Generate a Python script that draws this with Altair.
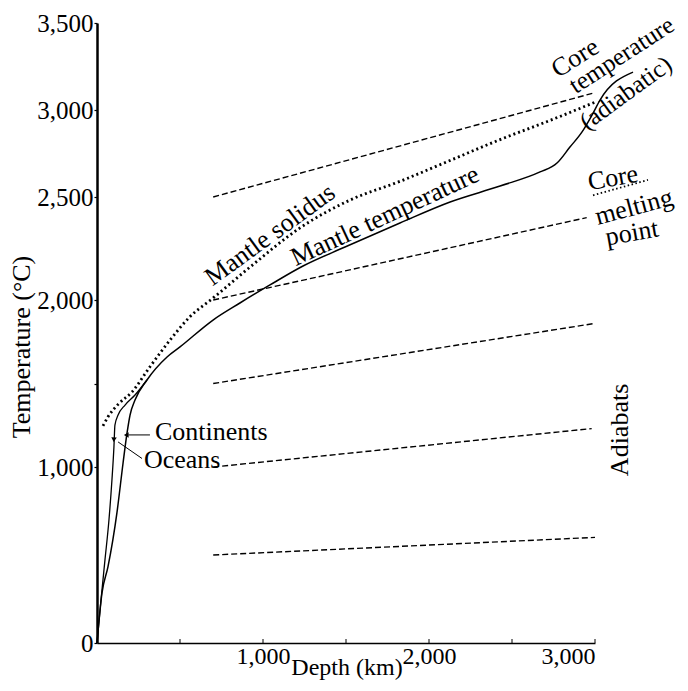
import altair as alt
import pandas as pd

FONT = "Liberation Serif"

# ---------------- data (depth km, temperature °C) ----------------
adiabat_depth = [[700, 3000], [700, 2950], [700, 3000], [700, 2980], [700, 3000]]
adiabat_temp = [[2500, 3100], [2000, 2400], [1500, 1860], [1000, 1230], [500, 600]]

solidus_depth = [36, 66, 127, 211, 319, 440, 560, 700, 922, 1223, 1524, 1825, 2127, 2428, 2729, 3000]
solidus_temp = [1246, 1300, 1375, 1450, 1600, 1760, 1900, 2010, 2160, 2350, 2485, 2590, 2710, 2830, 2940, 3045]

# continental geotherm continuing into mantle temperature and core adiabat
mantle_depth = [0, 30, 66, 120, 157, 181, 199, 229, 301, 422, 500, 699, 861, 1042, 1241, 1494,
                1825, 2127, 2428, 2669, 2771, 2849, 2922, 2982, 3030, 3229]
mantle_temp = [0, 284, 432, 739, 1024, 1204, 1311, 1401, 1521, 1659, 1719, 1880, 1982, 2073, 2165, 2257,
               2374, 2476, 2563, 2644, 2695, 2787, 2874, 2971, 3057, 3218]

ocean_depth = [0, 24, 48, 72, 90, 102, 108, 127, 169, 229, 301]
ocean_temp = [0, 244, 472, 699, 926, 1120, 1251, 1311, 1371, 1431, 1521]

core_melt_depth = [2988, 3319]
core_melt_temp = [2510, 2598]

x_ticks = [500, 1000, 1500, 2000, 2500, 3000]
y_ticks = [0, 1000, 1500, 2000, 2500, 3000, 3500]
y_label_points = [0, 1000, 2000, 2500, 3000, 3500]

labels_text = ["Mantle solidus", "Mantle temperature", "Core", "temperature", "(adiabatic)",
               "Core", "melting", "point", "Adiabats"]
labels_depth = [1042, 1735, 2880, 3160, 3185, 3108, 3235, 3223, 3151]
labels_temp = [2316, 2408, 3299, 3316, 3098, 2609, 2451, 2325, 1222]
labels_angle = [324, 335, 328, 327, 324, 350, 345, 350, 270]
labels_size = [26, 26, 26, 25, 25, 26, 26, 26, 26]

side_text = ["Continents", "Oceans"]
side_depth = [349, 283]
side_temp = [1210, 1040]

leader_depth = [319, 271]
leader_temp = [1192, 1051]
leader_depth2 = [190, 127]
leader_temp2 = [1192, 1150]
arrow_depth = [181, 102]
arrow_temp = [1192, 1168]
arrow_angle = [270, 304]

# ---------------- tables ----------------
rows = []
for i, (d, t) in enumerate(zip(adiabat_depth, adiabat_temp)):
    for dd, tt in zip(d, t):
        rows.append({"depth": dd, "temp": tt, "series": f"a{i}"})
adiabats = pd.DataFrame(rows)
solidus = pd.DataFrame({"depth": solidus_depth, "temp": solidus_temp})
mantle = pd.DataFrame({"depth": mantle_depth, "temp": mantle_temp})
ocean = pd.DataFrame({"depth": ocean_depth, "temp": ocean_temp})
coremelt = pd.DataFrame({"depth": core_melt_depth, "temp": core_melt_temp})
labels = pd.DataFrame({"text": labels_text, "depth": labels_depth, "temp": labels_temp,
                       "angle": labels_angle, "size": labels_size})
side_labels = pd.DataFrame({"text": side_text, "depth": side_depth, "temp": side_temp})
leaders = pd.DataFrame({"depth": leader_depth, "temp": leader_temp,
                        "depth2": leader_depth2, "temp2": leader_temp2})
arrows = pd.DataFrame({"depth": arrow_depth, "temp": arrow_temp, "angle": arrow_angle})
xticks_df = pd.DataFrame({"depth": x_ticks})

W, H = 498, 620
xs = alt.Scale(domain=[0, 3000], nice=False, zero=False)
ys = alt.Scale(domain=y_label_points, range=[620, 444, 277, 174, 87, 0], nice=False, zero=False)

x_axis = alt.Axis(values=x_ticks, labelExpr="datum.value % 1000 == 0 ? format(datum.value, ',') : ''",
                  tickSize=0, labelPadding=1, domainWidth=1.5, labelFontSize=24)
y_axis = alt.Axis(values=y_ticks, labelExpr="datum.value == 1500 ? '' : format(datum.value, ',')",
                  tickSize=3, labelPadding=1, domainWidth=2.5, tickWidth=1.2, labelFontSize=25)

X = alt.X("depth:Q", scale=xs, axis=x_axis, title=None)
Y = alt.Y("temp:Q", scale=ys, axis=y_axis, title=None)

base_adiabat = alt.Chart(adiabats).mark_line(color="black", strokeWidth=1.4, strokeDash=[6, 3]).encode(
    x=X, y=Y, detail="series:N")
solidus_l = alt.Chart(solidus).mark_line(color="black", strokeWidth=2.8, strokeDash=[2, 3],
                                         interpolate="monotone").encode(x=X, y=Y)
mantle_l = alt.Chart(mantle).mark_line(color="black", strokeWidth=1.5, interpolate="monotone").encode(
    x=X, y=Y, order="depth:Q")
ocean_l = alt.Chart(ocean).mark_line(color="black", strokeWidth=1.3, interpolate="monotone").encode(
    x=X, y=Y, order="depth:Q")
coremelt_l = alt.Chart(coremelt).mark_line(color="black", strokeWidth=1.8, strokeDash=[1.5, 2.5]).encode(
    x=X, y=Y)

# inward x-axis ticks
xtick_l = alt.Chart(xticks_df).mark_rule(color="black", strokeWidth=1).encode(
    x=X, y=alt.value(H), y2=alt.value(H - 4))

text_l = alt.Chart(labels).mark_text(font=FONT, color="black", baseline="middle",
                                     align="center").encode(
    x=X, y=Y, text="text:N", angle=alt.Angle("angle:Q", scale=None),
    size=alt.Size("size:Q", scale=None))
side_l = alt.Chart(side_labels).mark_text(font=FONT, fontSize=26, color="black", baseline="middle",
                                          align="left").encode(x=X, y=Y, text="text:N")

lead_l = alt.Chart(leaders).mark_rule(color="black", strokeWidth=1).encode(
    x=X, y=Y, x2="depth2:Q", y2="temp2:Q")
arrow_l = alt.Chart(arrows).mark_point(shape="triangle", filled=True, color="black", size=30, opacity=1).encode(
    x=X, y=Y, angle=alt.Angle("angle:Q", scale=None))

xtitle = alt.Chart(pd.DataFrame({"t": ["Depth (km)"]})).mark_text(
    font=FONT, fontSize=24, color="black", align="center", baseline="middle").encode(
    x=alt.value(250), y=alt.value(645), text="t:N")
ytitle = alt.Chart(pd.DataFrame({"t": ["Temperature (°C)"]})).mark_text(
    font=FONT, fontSize=26, color="black", align="center", baseline="middle", angle=270).encode(
    x=alt.value(-75), y=alt.value(324), text="t:N")

chart = alt.layer(base_adiabat, solidus_l, mantle_l, ocean_l, coremelt_l, xtick_l, lead_l, arrow_l,
                  text_l, side_l, xtitle, ytitle).properties(
    width=W, height=H,
    autosize=alt.AutoSizeParams(type="none"),
    padding={"left": 89, "top": 15, "right": 85, "bottom": 40},
    background="white",
).configure_view(stroke=None).configure_axis(
    grid=False, domainColor="black", tickColor="black", labelColor="black",
    labelFont=FONT, labelFontSize=25)

chart.save("out.html", embed_options={"renderer": "svg", "actions": False})
